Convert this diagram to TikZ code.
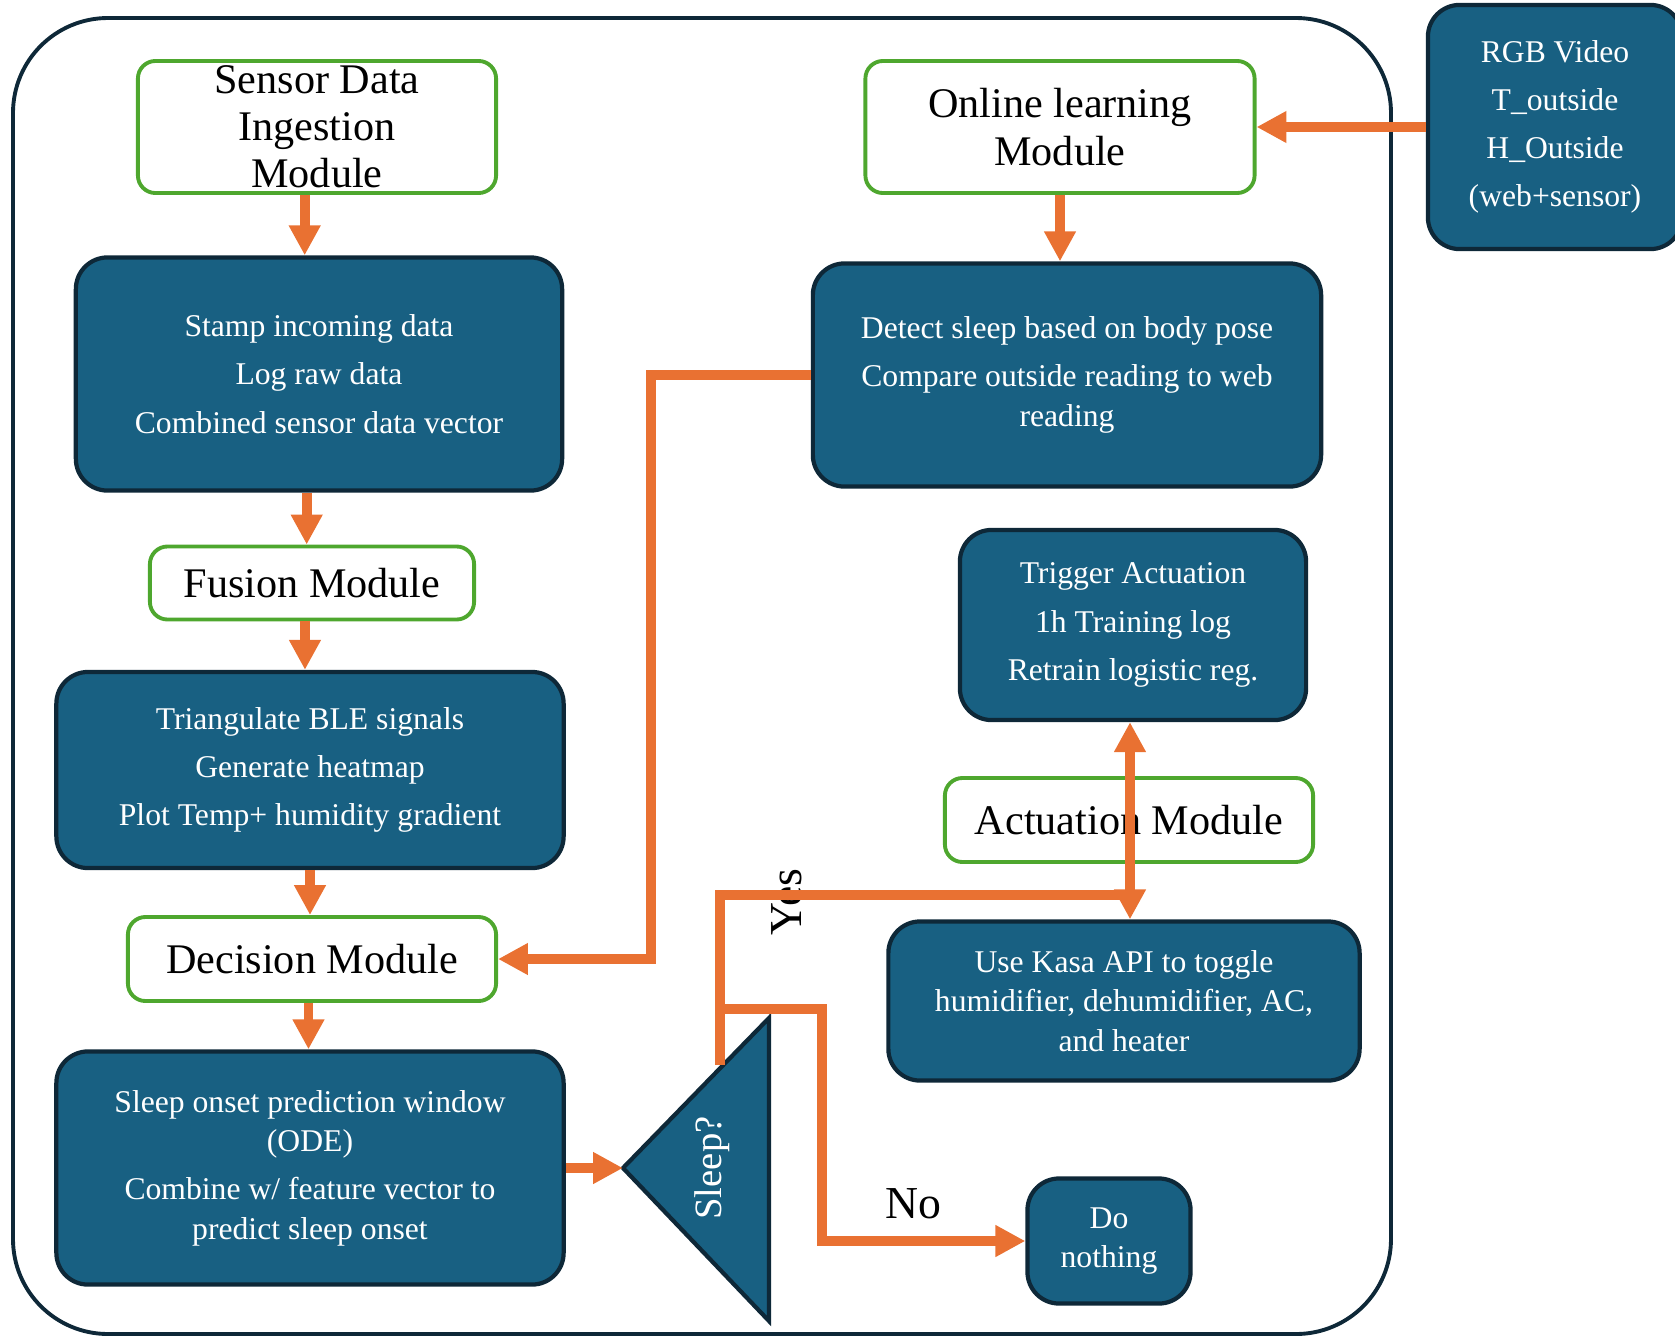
\documentclass[tikz,border=0pt]{standalone}
\usepackage{fontspec}
\setmainfont{Liberation Serif}
\definecolor{boxblue}{RGB}{24, 96, 130}
\definecolor{boxline}{RGB}{14, 40, 56}
\definecolor{modgreen}{RGB}{78, 167, 46}
\definecolor{floworange}{RGB}{233, 113, 50}
\usetikzlibrary{arrows.meta, positioning, calc}

\begin{document}
\begin{tikzpicture}[x=0.01cm, y=-0.01cm,
  module/.style={draw=modgreen, line width=1.1pt, fill=white, rounded corners=5pt, align=center, inner sep=0pt, font=\fontsize{12}{13.4}\selectfont},
  block/.style={draw=boxline, line width=1.2pt, fill=boxblue, text=white, rounded corners=9pt, align=center, inner sep=0pt, font=\fontsize{9}{11.2}\selectfont},
  flow/.style={draw=floworange, line width=2.8pt, -{Triangle[length=8.5pt, width=8.5pt]}},
  tag/.style={font=\fontsize{13}{15}\selectfont}]
  \clip (0,0) rectangle (1675,1336);
  \draw[boxline, line width=1.1pt, rounded corners=27pt] (13,18) rectangle (1391,1334);

  \node[module, minimum width=3.58cm, minimum height=1.32cm] (sensor) at (317,127) {Sensor Data\\Ingestion\\Module};
  \node[block, minimum width=4.86cm, minimum height=2.33cm] (stamp) at (319,374) {Stamp incoming data\\[2.5pt]Log raw data\\[2.5pt]Combined sensor data vector};
  \node[module, minimum width=3.24cm, minimum height=0.73cm] (fusion) at (312,583) {Fusion Module};
  \node[block, minimum width=5.07cm, minimum height=1.96cm] (triang) at (310,770) {Triangulate BLE signals\\[2.5pt]Generate heatmap\\[2.5pt]Plot Temp+ humidity gradient};
  \node[module, minimum width=3.68cm, minimum height=0.84cm] (decision) at (312,959) {Decision Module};
  \node[block, minimum width=5.07cm, minimum height=2.33cm] (onset) at (310,1168) {Sleep onset prediction window\\(ODE)\\[2.5pt]Combine w/ feature vector to\\predict sleep onset};

  \node[module, minimum width=3.89cm, minimum height=1.32cm] (online) at (1060,127) {Online learning\\Module};
  \node[block, minimum width=5.08cm, minimum height=2.23cm] (detect) at (1067,375) {Detect sleep based on body pose\\[2.5pt]Compare outside reading to web\\reading};
  \node[block, minimum width=2.54cm, minimum height=2.44cm] (rgb) at (1555,127) {RGB Video\\[2.5pt]T\_outside\\[2.5pt]H\_Outside\\[2.5pt](web+sensor)};
  \node[block, minimum width=3.46cm, minimum height=1.90cm] (trigger) at (1133,625) {Trigger Actuation\\[2.5pt]1h Training log\\[2.5pt]Retrain logistic reg.};
  \node[module, minimum width=3.68cm, minimum height=0.84cm] (actuation) at (1129,820) {Actuation Module};
  \node[block, minimum width=4.71cm, minimum height=1.59cm] (kasa) at (1124,1001) {Use Kasa API to toggle\\humidifier, dehumidifier, AC,\\and heater};
  \node[block, minimum width=1.63cm, minimum height=1.25cm] (nothing) at (1109,1241) {Do\\nothing};

  \draw[draw=boxline, line width=1.2pt, fill=boxblue] (623,1168) -- (769,1018) -- (769,1321) -- cycle;
  \node[text=white, rotate=90, font=\fontsize{11}{13}\selectfont] (sleepq) at (712,1168) {Sleep?};
  \coordinate (sleepin) at (623,1168);
  \coordinate (sleepyes) at (720,1065);
  \coordinate (nobranch) at (720,1009);
  \coordinate (yesjoin) at (1130,895);

  \node[tag, rotate=90] (yes) at (787,902) {Yes};
  \node[tag] (no) at (913,1204) {No};

  \draw[flow] ([xshift=-3.5pt]sensor.south) -- ([xshift=-3.5pt]sensor.south |- stamp.north);
  \draw[flow] ([xshift=-3.5pt]stamp.south) -- ([xshift=-3.5pt]stamp.south |- fusion.north);
  \draw[flow] ([xshift=-2pt]fusion.south) -- ([xshift=-2pt]fusion.south |- triang.north);
  \draw[flow] (triang.south) -- (triang.south |- decision.north);
  \draw[flow] ([xshift=-1pt]decision.south) -- ([xshift=-1pt]decision.south |- onset.north);
  \draw[flow] (online.south) -- (online.south |- detect.north);
  \draw[flow] (rgb.west) -- (online.east);
  \draw[flow] (detect.west) -- ++(-160,0) |- (decision.east);
  \draw[flow] (onset.east) -- (sleepin);
  \draw[flow] (sleepyes) |- (yesjoin) -- (yesjoin |- kasa.north);
  \draw[flow] (yesjoin) -- (yesjoin |- trigger.south);
  \draw[flow] (nobranch) -- ++(102,0) |- (nothing.west);
\end{tikzpicture}
\end{document}
